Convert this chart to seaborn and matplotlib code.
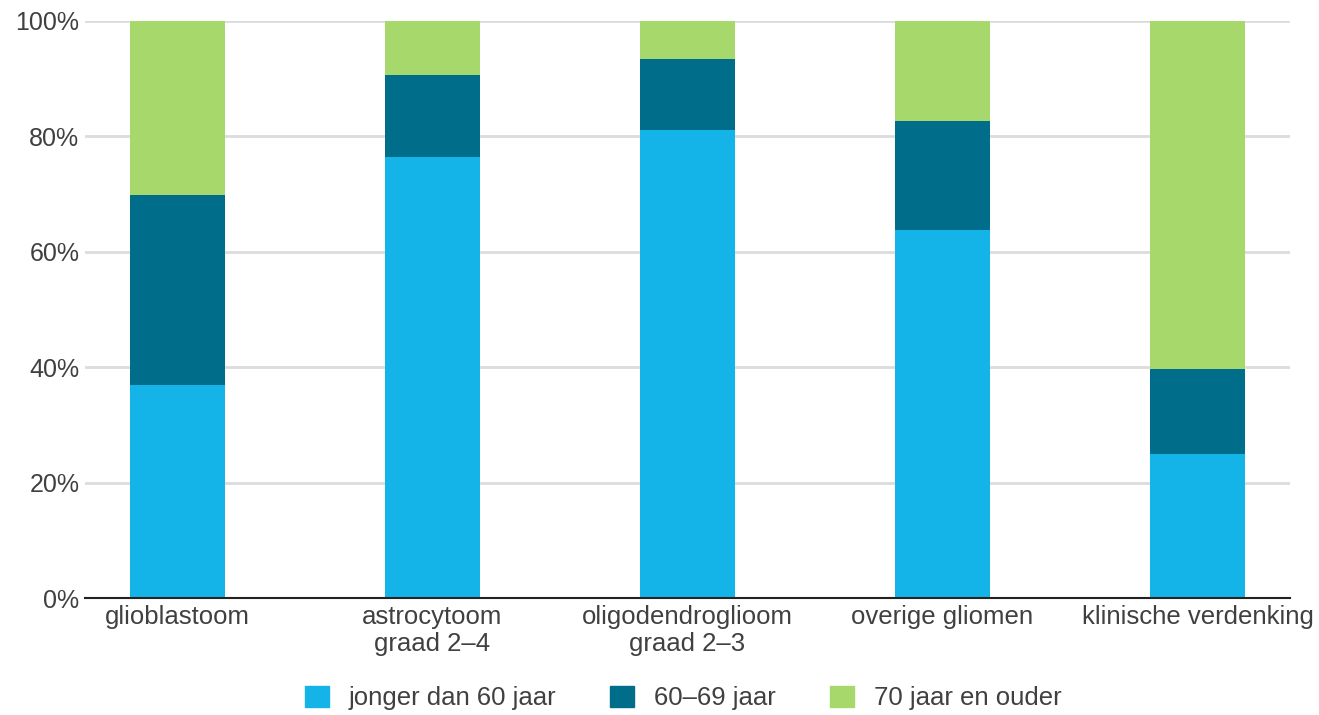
import matplotlib
matplotlib.use("Agg")
import matplotlib.pyplot as plt
import matplotlib.patches as mpatches
import seaborn as sns
import pandas as pd

# --- data (percent of patients per tumour type) ---
categories = ["glioblastoom", "astrocytoom\ngraad 2–4", "oligodendroglioom\ngraad 2–3",
              "overige gliomen", "klinische verdenking"]
jonger_60 = [36.9, 76.4, 81.1, 63.8, 25.0]
jaar_60_69 = [32.9, 14.2, 12.3, 18.9, 14.7]
jaar_70_plus = [30.2, 9.4, 6.6, 17.3, 60.3]
series_names = ["jonger dan 60 jaar", "60–69 jaar", "70 jaar en ouder"]
colors = ["#14b4e8", "#006d8a", "#a6d86c"]

sns.set_theme(style="white")
plt.rcParams["font.family"] = ["Liberation Sans", "DejaVu Sans"]

df = pd.DataFrame({
    "cat": categories,
    "blue": jonger_60,
    "mid": [a + b for a, b in zip(jonger_60, jaar_60_69)],
    "top": [a + b + c for a, b, c in zip(jonger_60, jaar_60_69, jaar_70_plus)],
})

fig = plt.figure(figsize=(13.19, 7.15), dpi=100)
ax = fig.add_axes([85 / 1319, 1 - 598 / 715, (1290 - 85) / 1319, (598 - 21) / 715])

# stacked bars: draw cumulative totals back to front
for col, c in zip(["top", "mid", "blue"], colors[::-1]):
    sns.barplot(data=df, x="cat", y=col, color=c, width=0.3725,
                saturation=1, ax=ax, linewidth=0, zorder=3)

ax.set_xlim(-0.363, 4.363)
ax.set_ylim(0, 100)
ax.set_yticks(range(0, 101, 20))
ax.set_yticklabels([f"{v}%" for v in range(0, 101, 20)])
ax.set_xlabel("")
ax.set_ylabel("")
ax.yaxis.grid(True, color="#dcdcdc", linewidth=2)
ax.set_axisbelow(True)
for s in ["top", "right", "left"]:
    ax.spines[s].set_visible(False)
ax.spines["bottom"].set_color("#222222")
ax.spines["bottom"].set_linewidth(1.5)
ax.spines["bottom"].set_zorder(4)
ax.tick_params(axis="x", length=0, labelsize=18.5, colors="#404040", pad=5)
ax.tick_params(axis="y", length=0, labelsize=18, colors="#404040", pad=4)
for t in ax.get_xticklabels():
    t.set_linespacing(1.15)

handles = [mpatches.Patch(color=c, label=n) for c, n in zip(colors, series_names)]
fig.legend(handles=handles, loc="center", bbox_to_anchor=(0.518, 1 - 698 / 715),
           ncol=3, frameon=False, fontsize=18.5, handlelength=0.93, handleheight=0.93,
           columnspacing=2.1, handletextpad=0.78, labelcolor="#404040")

fig.savefig("out.png", dpi=100)
